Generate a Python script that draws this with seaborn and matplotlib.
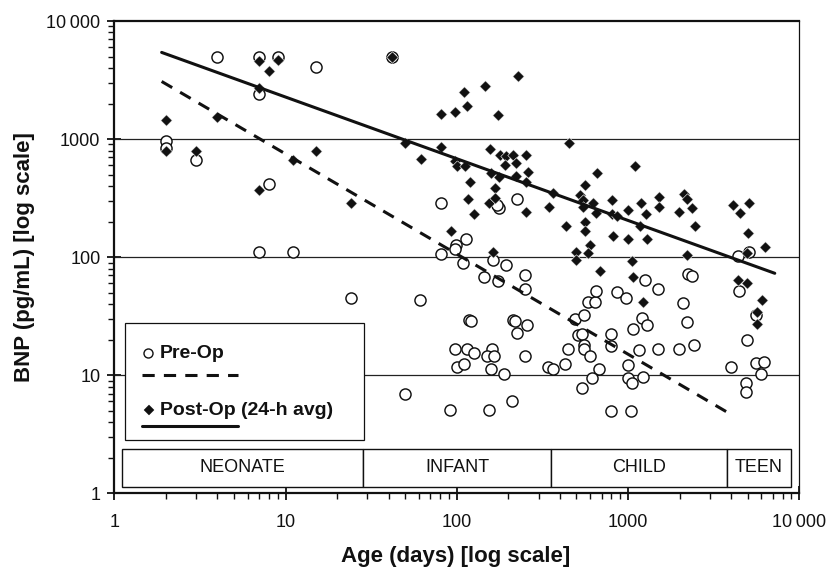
import matplotlib
matplotlib.use("Agg")
import matplotlib.pyplot as plt
import matplotlib.patches as mpatches
from matplotlib.ticker import FixedLocator, FixedFormatter, NullFormatter, LogLocator
import numpy as np
import pandas as pd
import seaborn as sns

# ---------------- data ----------------
pre_age = [4, 7, 9, 15, 7, 2, 2, 3, 8, 7, 11, 42, 24,
           81, 177, 171, 225, 113, 99, 97, 81,
           163, 193, 250, 108, 144, 175, 250, 61, 118, 121, 212, 220, 256, 225,
           98, 115, 126, 161, 151, 165, 250, 100, 110, 158, 189, 342, 363, 428, 447,
           489, 554, 511, 542, 552, 552, 598, 678, 612, 540, 580, 640, 649,
           50, 91, 154, 210, 790,
           4400, 5070, 2243, 2349, 1253, 1500, 857, 971, 2099, 4454, 5623, 1199,
           1282, 1072, 2197, 791, 791, 1161, 1500, 1981, 2431, 4920, 993, 993,
           1057, 1224, 4018, 5623, 6237, 5960, 4853, 4853, 1035]
pre_bnp = [5000, 5000, 5000, 4100, 2400, 970, 840, 670, 420, 110, 110, 5000, 45,
           287, 260, 277, 312, 142, 127, 117, 106,
           95, 85, 71, 90, 68, 63, 54, 43, 29.4, 29, 29.4, 29, 26.7, 23,
           16.6, 16.6, 15.5, 16.6, 14.6, 14.6, 14.6, 11.8, 12.5, 11.2, 10.2, 11.8, 11.2, 12.5, 16.6,
           30, 32.4, 21.7, 22.4, 18.1, 16.6, 14.6, 11.2, 9.4, 7.85, 42, 42, 52,
           6.9, 5.1, 5.1, 6.1, 5,
           103, 111, 72, 69, 64, 54, 50.5, 45, 41, 52, 32.4, 30.4,
           26.7, 24.5, 28.4, 22.4, 17.7, 16.2, 16.6, 16.6, 18.1, 19.9, 12.2, 9.4,
           8.65, 9.7, 11.8, 12.6, 12.9, 10.2, 8.55, 7.26, 5]

post_age = [7, 9, 8, 7, 2, 4, 2, 3, 11, 15, 7, 24, 42,
            227, 146, 110, 114, 81, 98, 173, 50, 450, 81, 62, 156, 179, 195, 212, 252,
            192, 221, 98, 100, 111, 158, 177, 221, 259, 252, 119, 167, 365, 116, 155, 167,
            126, 252, 345, 433, 560, 655, 523, 547, 621, 547, 649, 560, 560, 92, 598,
            500, 585, 163, 495, 684,
            1096, 807, 807, 857, 1001, 1188, 1265, 1172, 1520, 1520, 1987, 2118, 2214,
            2349, 2456, 819, 1001, 1293, 4074, 4496, 5097, 5027, 6290, 1048, 2214,
            1062, 1224, 4920, 4395, 4920, 6066, 5674, 5674]
post_bnp = [4600, 4700, 3800, 2700, 1450, 1550, 790, 800, 660, 800, 370, 290, 5000,
            3400, 2830, 2500, 1900, 1640, 1690, 1590, 920, 920, 850, 680, 820, 730, 713, 726, 726,
            606, 626, 646, 586, 586, 521, 473, 482, 525, 429, 429, 384, 349, 310, 290, 316,
            231, 239, 265, 184, 410, 515, 337, 306, 290, 268, 236, 198, 165, 165, 127,
            111, 109, 111, 94, 76,
            586, 306, 231, 221, 252, 287, 231, 184, 326, 268, 243, 342, 310,
            260, 184, 150, 142, 142, 277, 236, 287, 160, 123, 93, 105,
            68.5, 41.6, 109, 64, 60, 43, 34.6, 27.2]

# regression lines (end points)
pre_fit_age = [1.89, 3760]
pre_fit_bnp = [3076, 4.9]
post_fit_age = [1.89, 7190]
post_fit_bnp = [5420, 73]

# age-group band
stage_names = ["NEONATE", "INFANT", "CHILD", "TEEN"]
stage_edges = [1.11, 28.4, 357, 3780, 8900]
stage_band = [1.14, 2.36]

y_tick_vals = [1, 10, 100, 1000, 10000]
y_tick_labels = ["1", "10", "100", "1000", "10\u2009000"]
x_tick_vals = [1, 10, 100, 1000, 10000]
x_tick_labels = ["1", "10", "100", "1000", "10\u2009000"]

# ---------------- style ----------------
sns.set_style("ticks")
plt.rcParams["font.family"] = ["Liberation Sans", "DejaVu Sans"]

W, H = 829, 569
fig = plt.figure(figsize=(W / 100, H / 100), dpi=100)
L, R, T, B = 114.3, 799.3, 21.0, 493.3
ax = fig.add_axes([L / W, 1 - B / H, (R - L) / W, (B - T) / H])
ax.set_xscale("log")
ax.set_yscale("log")

pre_df = pd.DataFrame({"age": pre_age, "bnp": pre_bnp})
post_df = pd.DataFrame({"age": post_age, "bnp": post_bnp})

sns.scatterplot(data=pre_df, x="age", y="bnp", ax=ax, marker="o", s=64,
                facecolor="white", edgecolor="#111111", linewidth=1.05, zorder=4)
sns.scatterplot(data=post_df, x="age", y="bnp", ax=ax, marker="D", s=34,
                color="#111111", edgecolor="white", linewidth=0.4, zorder=5)

ax.plot(pre_fit_age, pre_fit_bnp, color="#111111", lw=2.2, ls=(0, (4, 3)),
        zorder=6, solid_capstyle="butt", dash_capstyle="butt")
ax.plot(post_fit_age, post_fit_bnp, color="#111111", lw=2.2, ls="-", zorder=6)

ax.set_xlim(1, 10000)
ax.set_ylim(1, 10000)

# gridlines
for g in [10, 100, 1000]:
    ax.axhline(g, color="#222222", lw=0.9, zorder=1)

# age band
for i, name in enumerate(stage_names):
    x0, x1 = stage_edges[i], stage_edges[i + 1]
    rect = mpatches.Rectangle((x0, stage_band[0]), x1 - x0, stage_band[1] - stage_band[0],
                              facecolor="white", edgecolor="#111111", lw=1.0, zorder=3)
    ax.add_patch(rect)
    ax.text(np.sqrt(x0 * x1), np.sqrt(stage_band[0] * stage_band[1]), name,
            ha="center", va="center", fontsize=13, color="#111111", zorder=4)

# ticks
ax.xaxis.set_major_locator(FixedLocator(x_tick_vals))
ax.xaxis.set_major_formatter(FixedFormatter(x_tick_labels))
ax.yaxis.set_major_locator(FixedLocator(y_tick_vals))
ax.yaxis.set_major_formatter(FixedFormatter(y_tick_labels))
ax.xaxis.set_minor_locator(LogLocator(base=10, subs=np.arange(2, 10)))
ax.yaxis.set_minor_locator(LogLocator(base=10, subs=np.arange(2, 10)))
ax.xaxis.set_minor_formatter(NullFormatter())
ax.yaxis.set_minor_formatter(NullFormatter())
ax.tick_params(axis="both", which="major", direction="inout", length=10, width=1.3,
               labelsize=13, colors="#111111")
ax.tick_params(axis="x", which="major", pad=10)
ax.tick_params(axis="y", which="major", pad=5)
ax.tick_params(axis="both", which="minor", direction="out", length=4.5, width=1.0,
               colors="#111111")

for side in ["left", "bottom", "top"]:
    ax.spines[side].set_linewidth(1.6)
    ax.spines[side].set_color("#111111")
ax.spines["right"].set_linewidth(0.9)
ax.spines["right"].set_color("#111111")
ax.spines["right"].set_visible(True)
ax.spines["top"].set_visible(True)

ax.set_xlabel("")
ax.set_ylabel("")
fig.text(456 / W, 1 - 556.7 / H, "Age (days) [log scale]", ha="center", va="center",
         fontsize=16, fontweight="bold", color="#111111")
fig.text(25 / W, 1 - 257 / H, "BNP (pg/mL) [log scale]", ha="center", va="center",
         rotation=90, fontsize=16, fontweight="bold", color="#111111")

# custom legend (axes-fraction layout)
tr = ax.transAxes
def fx(px):
    return (px - L) / (R - L)
def fy(py):
    return (B - py) / (B - T)
leg = mpatches.Rectangle((fx(125), fy(440)), fx(364.3) - fx(125), fy(322.7) - fy(440),
                         transform=tr, facecolor="white", edgecolor="#111111", lw=0.9, zorder=7)
ax.add_patch(leg)
ax.plot([fx(148)], [fy(353)], transform=tr, marker="o", ms=6.5, mfc="white", mec="#111111",
        mew=1.0, ls="none", zorder=8)
ax.text(fx(160), fy(353), "Pre-Op", transform=tr, ha="left", va="center", fontsize=14,
        fontweight="bold", color="#111111", zorder=8)
ax.plot([fx(141.7), fx(238)], [fy(375), fy(375)], transform=tr, color="#111111", lw=2.2,
        ls=(0, (4, 3)), zorder=8, dash_capstyle="butt")
ax.plot([fx(149)], [fy(410.5)], transform=tr, marker="D", ms=5.0, mfc="#111111",
        mec="#111111", mew=0.3, ls="none", zorder=8)
ax.text(fx(160), fy(410.5), "Post-Op (24-h avg)", transform=tr, ha="left", va="center",
        fontsize=14, fontweight="bold", color="#111111", zorder=8)
ax.plot([fx(141.7), fx(238)], [fy(426), fy(426)], transform=tr, color="#111111", lw=2.2,
        ls="-", zorder=8)

fig.savefig("out.png", dpi=100)
